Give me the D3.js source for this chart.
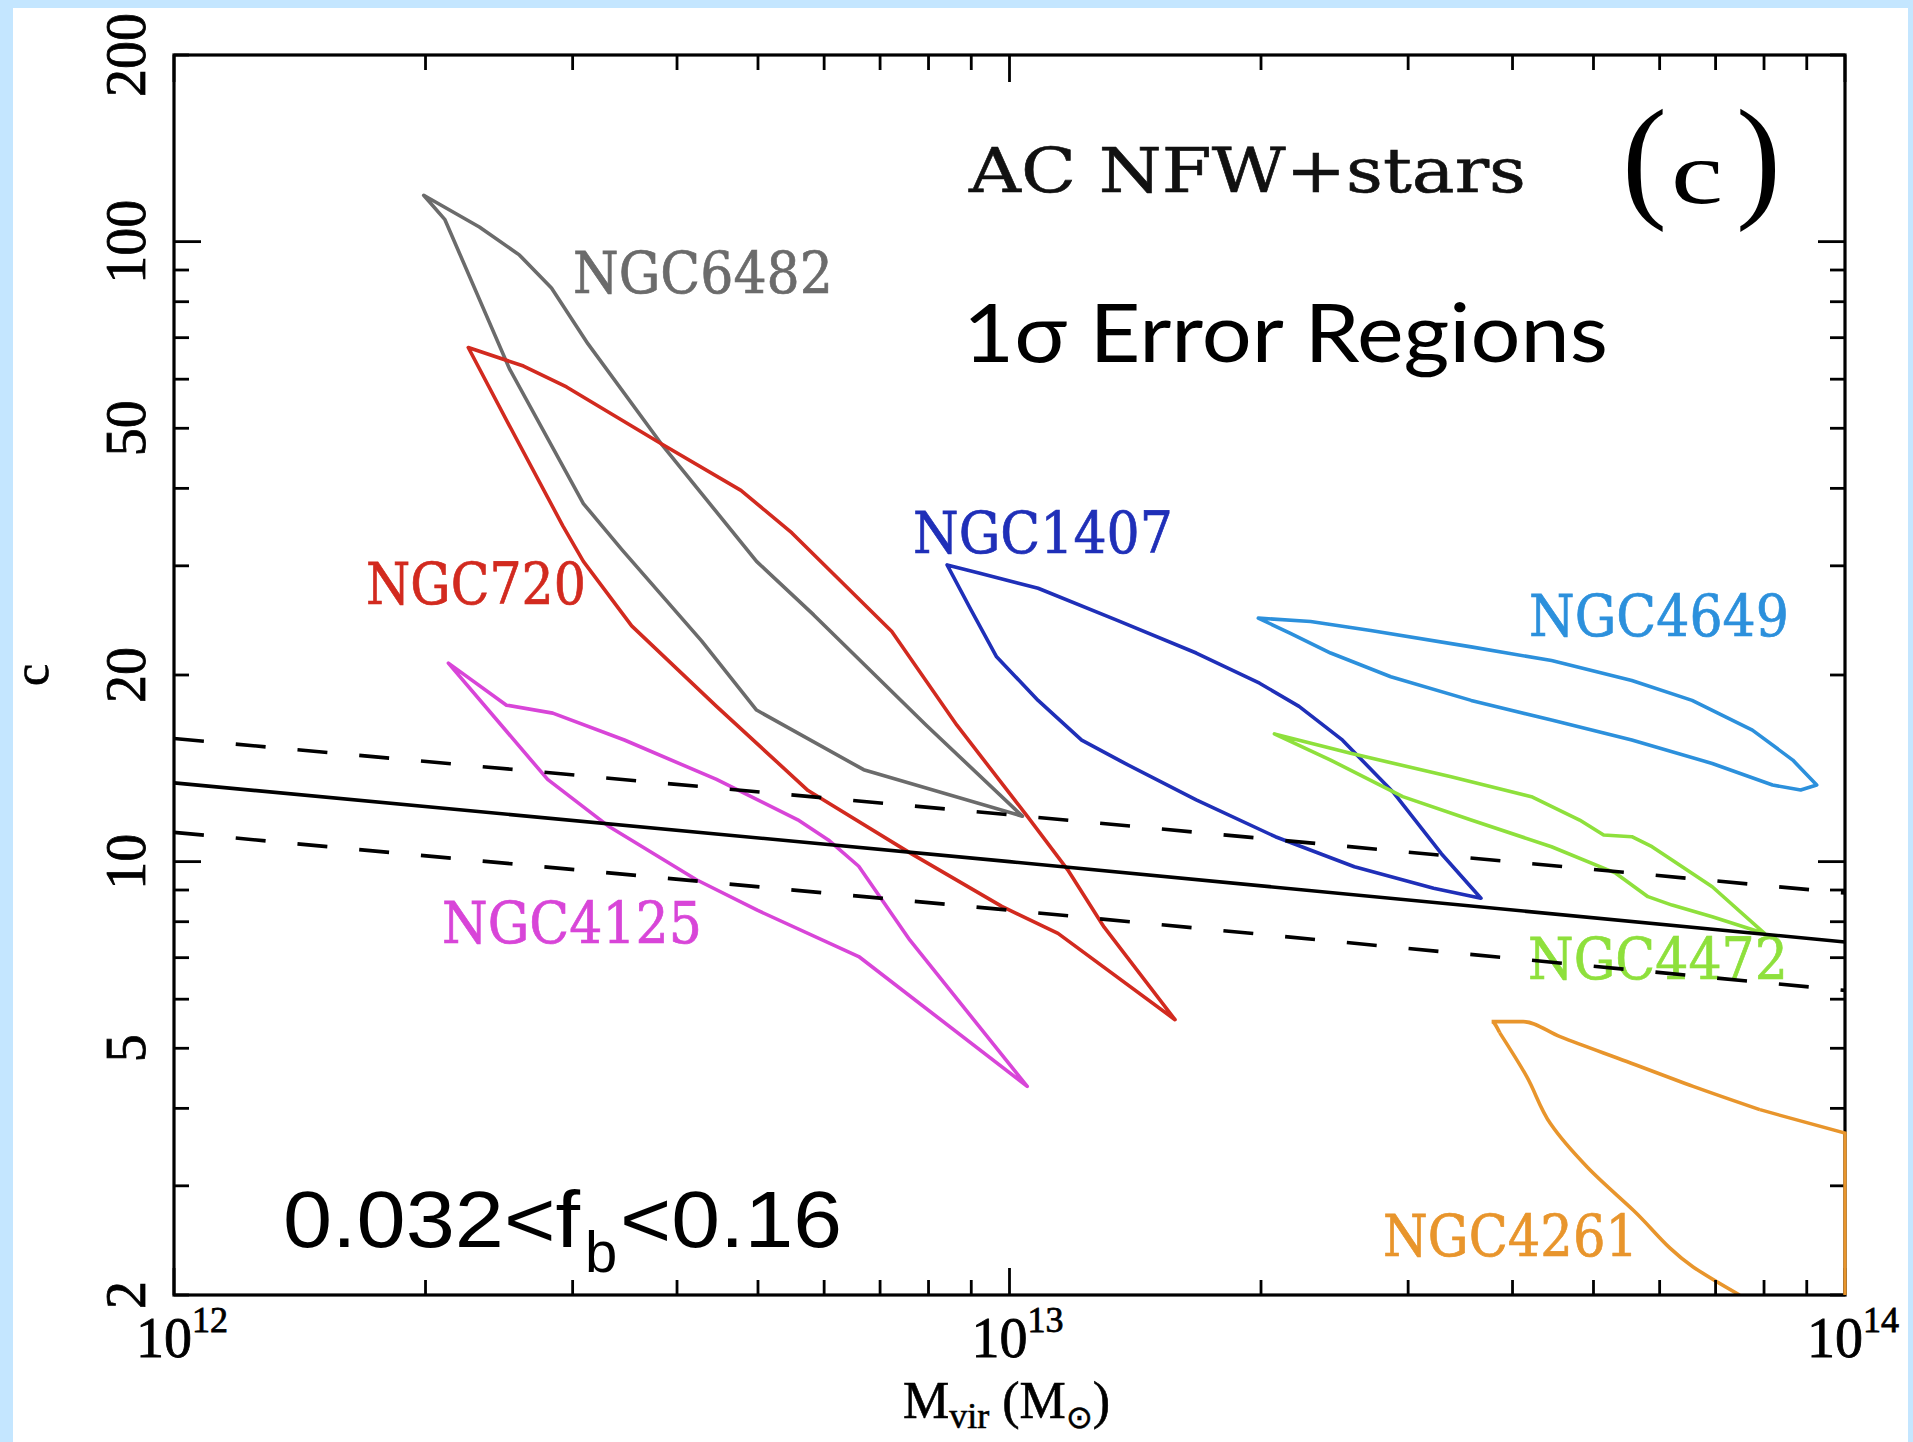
<!DOCTYPE html>
<html><head><meta charset="utf-8">
<script src="https://cdn.jsdelivr.net/npm/d3@7"></script>
<style>html,body{margin:0;padding:0;background:#c4e6ff;}svg{display:block}</style>
</head><body>
<svg id="chart" width="1913" height="1442"></svg>
<script>
// ---------------- data ----------------
// mean c(M) relation and its scatter (straight power laws in log-log)
const massGrid = [1e12, 1e13, 1e14];
const cMean  = [13.4, 10.0, 7.42];
const cUpper = [15.8, 11.9, 8.9];
const cLower = [11.15, 8.35, 6.2];

// 1-sigma contours: [Mvir (Msun), c]
const ngc6482 = [[1.99e12,118.8],[2.32e12,105.6],[2.59e12,95.2],[2.83e12,84.2],[3.13e12,68.4],[3.83e12,47.2],[4.98e12,30.5],[5.83e12,25.0],[7.95e12,16.6],[10.36e12,11.84],
  [6.69e12,14.07],[4.98e12,17.56],[4.28e12,22.7],[3.44e12,31.8],[3.09e12,37.8],[2.52e12,62.4],[2.11e12,108.5]];
const ngc720 = [[2.25e12,67.5],[2.62e12,63.0],[2.95e12,58.3],[3.83e12,47.2],[4.77e12,39.7],[5.49e12,33.9],[7.23e12,23.5],[8.65e12,16.6],[10.5e12,11.84],[11.74e12,9.70],[12.98e12,7.84],[15.78e12,5.56],
  [11.43e12,7.66],[9.79e12,8.47],[7.60e12,10.33],[5.74e12,13.02],[4.46e12,17.8],[3.53e12,24.0],[3.09e12,30.5],[2.92e12,34.8],[2.52e12,50.5]];
const ngc4125 = [[2.13e12,20.9],[2.50e12,17.88],[2.84e12,17.36],[3.46e12,15.71],[4.46e12,13.57],[5.58e12,11.68],[6.07e12,10.84],[6.60e12,9.83],[7.60e12,7.47],[10.5e12,4.34],
  [6.60e12,7.03],[4.99e12,8.35],[4.22e12,9.35],[3.32e12,11.38],[2.80e12,13.57]];
const ngc1407 = [[8.42e12,30.1],[9.19e12,29.2],[10.82e12,27.6],[13.46e12,24.5],[16.73e12,21.7],[19.92e12,19.4],[22.21e12,17.8],[25.04e12,15.7],[28.85e12,12.9],[32.88e12,10.3],[36.67e12,8.73],
  [32.18e12,9.06],[25.87e12,9.81],[20.81e12,10.97],[16.73e12,12.58],[13.75e12,14.4],[12.20e12,15.7],[10.82e12,18.2],[9.65e12,21.4],[8.99e12,25.5]];
const ngc4649 = [[19.85e12,24.7],[22.93e12,24.4],[27.06e12,23.6],[35.69e12,22.2],[44.54e12,21.1],[55.57e12,19.6],[65.61e12,18.2],[77.47e12,16.3],[86.6e12,14.58],[92.5e12,13.29],
  [88.5e12,13.05],[81.9e12,13.29],[69.36e12,14.40],[55.57e12,15.71],[44.54e12,16.92],[35.69e12,18.2],[28.60e12,19.87],[24.23e12,21.7],[21.69e12,23.35]];
const ngc4472 = [[20.75e12,16.07],[25.60e12,14.95],[33.77e12,13.71],[42.14e12,12.73],[48.13e12,11.67],[51.42e12,11.04],[55.57e12,10.97],[58.75e12,10.57],[62.08e12,10.06],[69.36e12,9.11],[80.1e12,7.66],
  [69.36e12,8.15],[62.08e12,8.51],[58.10e12,8.78],[53.16e12,9.58],[44.54e12,10.57],[35.69e12,11.67],[29.56e12,12.73],[24.23e12,14.58]];
// NGC4261 runs off the plot: open path clipped by the axes
const ngc4261 = [[74.8e12,2.0],[65.8e12,2.22],[55.8e12,2.74],[49.1e12,3.22],[44.4e12,3.78],[41.6e12,4.50],[38.6e12,5.30],[37.76e12,5.52],[41.2e12,5.52],[45.6e12,5.22],[54.8e12,4.76],[65.8e12,4.34],[79.1e12,3.98],[100e12,3.65],[100e12,2.0]];

const galaxyNames = ['NGC6482','NGC720','NGC4125','NGC1407','NGC4649','NGC4472','NGC4261'];
const contours = [ngc6482, ngc720, ngc4125, ngc1407, ngc4649, ngc4472, ngc4261];
const closedFlags = [true, true, true, true, true, true, false];

const xTickValues = [1e12, 1e13, 1e14];
const xTickExponents = ['12', '13', '14'];
const yTickValues = [2, 5, 10, 20, 50, 100, 200];
const yTickLabels = ['2', '5', '10', '20', '50', '100', '200'];

// ---------------- styles / layout ----------------
const colors = {NGC6482:'#6b6b6b', NGC720:'#d22a1f', NGC4125:'#d845d8', NGC1407:'#1f2fb8', NGC4649:'#2c90dc', NGC4472:'#8ee03c', NGC4261:'#e8952c'};
const labelLayout = {
  NGC6482:{x:573, y:293, w:260}, NGC720:{x:366, y:604, w:220}, NGC1407:{x:913, y:553, w:260},
  NGC4649:{x:1529, y:636, w:260}, NGC4125:{x:442, y:943, w:260}, NGC4472:{x:1528, y:979, w:260},
  NGC4261:{x:1383, y:1256, w:255}
};
const plot = {left:174, right:1845, top:55, bottom:1295};
const slab = '"DejaVu Serif", serif';
const serif = '"Liberation Serif", serif';
const sans = '"Liberation Sans", sans-serif';

const svg = d3.select('#chart');
svg.append('rect').attr('x',13).attr('y',8).attr('width',1895).attr('height',1434).attr('fill','#fff');

const x = d3.scaleLog().domain([1e12,1e14]).range([plot.left, plot.right]);
const y = d3.scaleLog().domain([2,200]).range([plot.bottom, plot.top]);

svg.append('clipPath').attr('id','clip').append('rect')
  .attr('x',plot.left).attr('y',plot.top).attr('width',plot.right-plot.left).attr('height',plot.bottom-plot.top);

// galaxy labels
galaxyNames.forEach(n=>{
  const L = labelLayout[n];
  svg.append('text').attr('x',L.x).attr('y',L.y)
    .attr('font-family',slab).attr('font-size',57)
    .attr('textLength',L.w).attr('lengthAdjust','spacingAndGlyphs')
    .attr('fill',colors[n]).attr('stroke',colors[n]).attr('stroke-width',0.7)
    .text(n);
});

const g = svg.append('g').attr('clip-path','url(#clip)');
const line = d3.line().x(d=>x(d[0])).y(d=>y(d[1]));

// contours (the clipped orange one is drawn over the frame)
contours.forEach((pts,i)=>{
  if(!closedFlags[i]) return;
  g.append('path').attr('d', line(pts)+'Z').attr('fill','none')
   .attr('stroke',colors[galaxyNames[i]]).attr('stroke-width',3.6).attr('stroke-linejoin','round');
});

// mean relation and scatter
const relLine = d3.line().x((d,i)=>x(massGrid[i])).y(d=>y(d));
g.append('path').attr('d',relLine(cMean)).attr('fill','none').attr('stroke','#000').attr('stroke-width',3.6);
[cUpper,cLower].forEach(arr=>{
  g.append('path').attr('d',relLine(arr)).attr('fill','none').attr('stroke','#000').attr('stroke-width',3.6)
   .attr('stroke-dasharray','30,32');
});

// frame
svg.append('rect').attr('x',plot.left).attr('y',plot.top).attr('width',plot.right-plot.left).attr('height',plot.bottom-plot.top)
  .attr('fill','none').attr('stroke','#000').attr('stroke-width',3.2);

const isMajor = v => Math.abs(Math.log10(v)-Math.round(Math.log10(v)))<1e-9;
const ticks = svg.append('g').attr('stroke','#000').attr('stroke-width',2.8);
x.ticks().forEach(v=>{
  const L = isMajor(v)?27:15, px=x(v);
  ticks.append('line').attr('x1',px).attr('x2',px).attr('y1',plot.bottom).attr('y2',plot.bottom-L);
  ticks.append('line').attr('x1',px).attr('x2',px).attr('y1',plot.top).attr('y2',plot.top+L);
});
y.ticks().forEach(v=>{
  const L = isMajor(v)?27:15, py=y(v);
  ticks.append('line').attr('y1',py).attr('y2',py).attr('x1',plot.left).attr('x2',plot.left+L);
  ticks.append('line').attr('y1',py).attr('y2',py).attr('x1',plot.right).attr('x2',plot.right-L);
});

// orange clipped contour
g.append('path').attr('d', d3.line().curve(d3.curveMonotoneX).x(d=>x(d[0])).y(d=>y(d[1]))(ngc4261.slice(6,13))).attr('fill','none')
  .attr('stroke',colors.NGC4261).attr('stroke-width',3.6);
g.append('path').attr('d', d3.line().curve(d3.curveMonotoneY).x(d=>x(d[0])).y(d=>y(d[1]))(ngc4261.slice(0,7))).attr('fill','none')
  .attr('stroke',colors.NGC4261).attr('stroke-width',3.6);
svg.append('path').attr('d', line(ngc4261.slice(12))).attr('fill','none')
  .attr('stroke',colors.NGC4261).attr('stroke-width',3.4);

// tick labels
xTickValues.forEach((v,i)=>{
  const t = svg.append('text').attr('x',x(v)+8).attr('y',1357).attr('text-anchor','middle')
    .attr('font-family',serif).attr('font-size',56).attr('fill','#000').attr('stroke','#000').attr('stroke-width',0.8);
  t.append('tspan').text('10');
  t.append('tspan').attr('font-size',36).attr('dy',-25).text(xTickExponents[i]);
});
yTickValues.forEach((v,i)=>{
  svg.append('text').attr('transform',`translate(145,${y(v)}) rotate(-90)`).attr('text-anchor','middle')
    .attr('font-family',serif).attr('font-size',56).attr('fill','#000').attr('stroke','#000').attr('stroke-width',0.8)
    .text(yTickLabels[i]);
});

// axis titles
svg.append('text').attr('transform','translate(48,675) rotate(-90)').attr('text-anchor','middle')
  .attr('font-family',serif).attr('font-size',50).attr('stroke','#000').attr('stroke-width',0.6).text('c');
const xl = svg.append('text').attr('x',903).attr('y',1418).attr('font-family',serif).attr('font-size',52).attr('fill','#000')
  .attr('stroke','#000').attr('stroke-width',0.6);
xl.append('tspan').text('M');
xl.append('tspan').attr('font-size',36).attr('dy',10).text('vir');
xl.append('tspan').attr('dy',-10).text(' (M');
xl.append('tspan').attr('font-size',32).attr('dy',10).text('\u2299');
xl.append('tspan').attr('dy',-10).text(')');

// annotations
svg.append('text').attr('x',969).attr('y',192).attr('font-family',slab).attr('font-size',62)
  .attr('textLength',557).attr('lengthAdjust','spacingAndGlyphs').attr('fill','#111').attr('stroke','#111').attr('stroke-width',0.6).text('AC NFW+stars');
svg.append('text').attr('x',1622).attr('y',203).attr('font-family',serif).attr('font-size',135).text('(');
svg.append('text').attr('x',1671).attr('y',203).attr('font-family',serif).attr('font-size',88)
  .attr('textLength',52).attr('lengthAdjust','spacingAndGlyphs').text('c');
svg.append('text').attr('x',1736).attr('y',203).attr('font-family',serif).attr('font-size',135).text(')');

svg.append('text').attr('x',963).attr('y',362).attr('font-family','Lato, sans-serif').attr('font-size',82)
  .attr('textLength',645).attr('lengthAdjust','spacingAndGlyphs').text('1\u03C3 Error Regions');

svg.append('text').attr('x',283).attr('y',1247).attr('font-family',sans).attr('font-size',80)
  .attr('textLength',297).attr('lengthAdjust','spacingAndGlyphs').text('0.032<f');
svg.append('text').attr('x',585).attr('y',1272).attr('font-family',sans).attr('font-size',58).text('b');
svg.append('text').attr('x',620).attr('y',1247).attr('font-family',sans).attr('font-size',80)
  .attr('textLength',222).attr('lengthAdjust','spacingAndGlyphs').text('<0.16');
</script>
</body></html>
